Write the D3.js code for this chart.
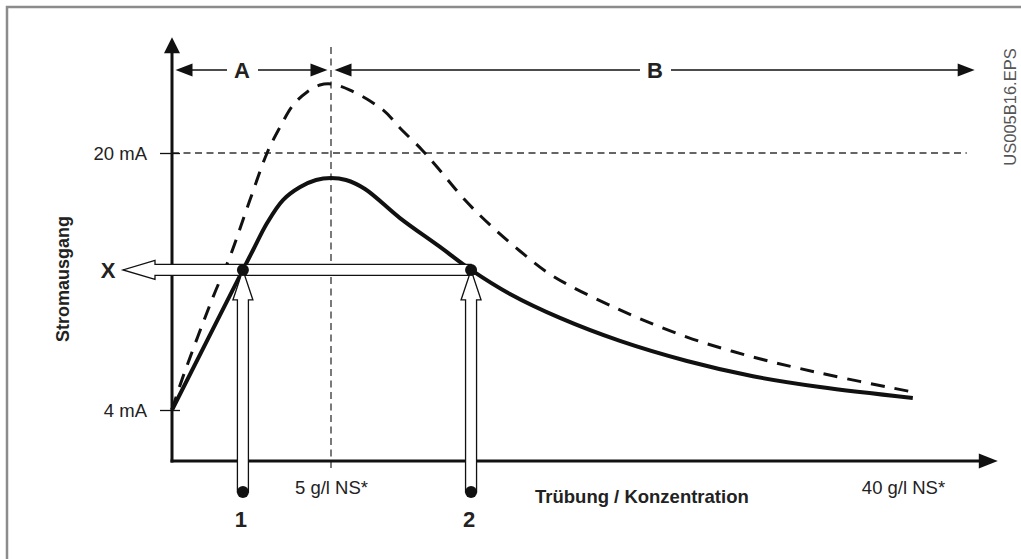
<!DOCTYPE html>
<html>
<head>
<meta charset="utf-8">
<script src="https://cdn.jsdelivr.net/npm/d3@7"></script>
<style>
  body { margin: 0; background: #fff; }
  svg { display: block; font-family: "Liberation Sans", Arial, sans-serif; }
</style>
</head>
<body>
<div id="chart"></div>
<script>
// Werte (x in g/l NS, y in mA)
const yTickValues = [4, 20];
const yTickLabels = ["4 mA", "20 mA"];
const xTickValues = [5, 40];
const xTickLabels = ["5 g/l NS*", "40 g/l NS*"];

const solidX = [0, 2.23, 2.55, 2.99, 3.49, 4.03, 4.53, 5, 5.92, 7.08, 9.22, 11.67, 13.57, 15.95, 19.01, 22.68, 26.78, 30.82, 34.92, 40.6];
const solidY = [4, 12.72, 13.96, 15.64, 17.07, 17.88, 18.32, 18.44, 18.32, 17.76, 15.95, 14.15, 12.72, 11.22, 9.73, 8.3, 7.05, 6.1, 5.43, 4.75];

const dashedX = [0, 0.31, 1.29, 1.82, 2.45, 2.99, 3.4, 3.81, 4.25, 4.65, 5, 6.16, 8.18, 9.22, 10.57, 11.49, 13.2, 14.73, 16.56, 18.58, 22.68, 26.78, 30.82, 34.92, 40.6];
const dashedY = [4, 5.87, 11.03, 13.53, 17.07, 20.0, 21.62, 22.99, 23.8, 24.23, 24.3, 23.92, 22.68, 21.56, 20.19, 19.13, 17.07, 15.52, 13.9, 12.34, 10.23, 8.54, 7.3, 6.3, 5.12];

const pointNames = ["1", "2"];
const pointX = [2.23, 13.57];
const levelX = 12.72; // Stromwert X

const regionNames = ["A", "B"];
const regionFrom = [0, 5];
const regionTo = [5, 44.6];

const W = 1021, H = 559;
const svg = d3.select("#chart").append("svg").attr("width", W).attr("height", H);

// Rahmen (rechts/unten abgeschnitten)
svg.append("rect")
    .attr("x", 7).attr("y", 7)
    .attr("width", 1100).attr("height", 600)
    .attr("fill", "none")
    .attr("stroke", "#8c8c8c")
    .attr("stroke-width", 2.5);

// Skalen: x ist in der Vorlage nicht linear, daher stückweise
const x = d3.scaleLinear().domain([0, 5, 40]).range([172, 331, 903]);
const y = d3.scaleLinear().domain([4, 20]).range([410, 153]);

const xMax = 45.8, yMax = 27.2, yMin = y.invert(461);

function triangle(tx, ty, dir, len, half) {
    // dir: "up", "right", "left"
    let pts;
    if (dir === "up") pts = [[tx, ty], [tx - half, ty + len], [tx + half, ty + len]];
    else if (dir === "right") pts = [[tx, ty], [tx - len, ty - half], [tx - len, ty + half]];
    else pts = [[tx, ty], [tx + len, ty - half], [tx + len, ty + half]];
    return "M" + pts.map(p => p.join(",")).join("L") + "Z";
}

// Hilfslinien
svg.append("line")
    .attr("x1", x(0)).attr("x2", x(43.9))
    .attr("y1", y(20)).attr("y2", y(20))
    .attr("stroke", "#333").attr("stroke-width", 1.3)
    .attr("stroke-dasharray", "7,4.5");

svg.append("line")
    .attr("x1", x(5)).attr("x2", x(5))
    .attr("y1", y(26.6)).attr("y2", 472)
    .attr("stroke", "#333").attr("stroke-width", 1.3)
    .attr("stroke-dasharray", "7,4.5");

// Achsen
const gy = svg.append("g")
    .attr("transform", `translate(${x(0)},0)`)
    .call(d3.axisLeft(y).tickValues(yTickValues)
        .tickFormat((d, i) => yTickLabels[i]).tickSize(12).tickPadding(14));
gy.select(".domain").remove();
gy.selectAll(".tick line").attr("x2", -12).attr("x1", 8).attr("stroke", "#111").attr("stroke-width", 1.3);
gy.selectAll(".tick text")
    .attr("font-size", 18.5).attr("font-family", "Liberation Sans, Arial, sans-serif")
    .attr("fill", "#222").attr("dy", "0.36em").attr("x", -25);

const gx = svg.append("g")
    .attr("transform", `translate(0,461)`)
    .call(d3.axisBottom(x).tickValues(xTickValues)
        .tickFormat((d, i) => xTickLabels[i]).tickSize(0).tickPadding(20));
gx.select(".domain").remove();
gx.selectAll(".tick text")
    .attr("font-size", 18.5).attr("font-family", "Liberation Sans, Arial, sans-serif")
    .attr("fill", "#222");

svg.append("line")
    .attr("x1", x(0)).attr("x2", x(0))
    .attr("y1", y(yMin) + 1.5).attr("y2", y(yMax) + 10)
    .attr("stroke", "#111").attr("stroke-width", 3);
svg.append("path").attr("d", triangle(x(0), y(yMax), "up", 16, 8)).attr("fill", "#111");

svg.append("line")
    .attr("x1", x(0) - 1.5).attr("x2", x(xMax) - 10)
    .attr("y1", 461).attr("y2", 461)
    .attr("stroke", "#111").attr("stroke-width", 3);
svg.append("path").attr("d", triangle(x(xMax), 461, "right", 19, 7.5)).attr("fill", "#111");

// Bereiche A und B
const regY = 70;
regionNames.forEach((name, i) => {
    const x0 = x(regionFrom[i]) + 3.5, x1 = x(regionTo[i]) - 3.5;
    const cx = i === 0 ? 242 : 655;
    svg.append("line").attr("x1", x0 + 10).attr("x2", cx - 15)
        .attr("y1", regY).attr("y2", regY).attr("stroke", "#111").attr("stroke-width", 1.6);
    svg.append("line").attr("x1", cx + 16).attr("x2", x1 - 10)
        .attr("y1", regY).attr("y2", regY).attr("stroke", "#111").attr("stroke-width", 1.6);
    svg.append("path").attr("d", triangle(x0, regY, "left", 17, 6.5)).attr("fill", "#111");
    svg.append("path").attr("d", triangle(x1, regY, "right", 17, 6.5)).attr("fill", "#111");
    svg.append("text").attr("x", cx).attr("y", regY + 8)
        .attr("text-anchor", "middle").attr("font-size", 22).attr("font-weight", "bold")
        .attr("fill", "#222").text(name);
});

// Kurven
const line = d3.line().x(d => x(d[0])).y(d => y(d[1])).curve(d3.curveCatmullRom.alpha(0.5));

svg.append("path")
    .attr("d", line(dashedX.map((v, i) => [v, dashedY[i]])))
    .attr("fill", "none").attr("stroke", "#111")
    .attr("stroke-width", 3).attr("stroke-dasharray", "14,10");

svg.append("path")
    .attr("d", line(solidX.map((v, i) => [v, solidY[i]])))
    .attr("fill", "none").attr("stroke", "#111").attr("stroke-width", 4);

// Hohlpfeile
const ly = y(levelX);
const hw = 5.5;
const hArrow = [[x(pointX[1]), ly - hw], [155, ly - hw], [155, ly - 9.5], [123, ly],
    [155, ly + 9.5], [155, ly + hw], [x(pointX[1]), ly + hw]];
svg.append("path").attr("d", "M" + hArrow.map(p => p.join(",")).join("L") + "Z")
    .attr("fill", "#fff").attr("stroke", "#111").attr("stroke-width", 1.3);

const baseY = 492;
pointX.forEach((px, i) => {
    const cx = x(px);
    const pts = [[cx - hw, baseY], [cx - hw, ly + 30], [cx - 10, ly + 30], [cx, ly],
        [cx + 10, ly + 30], [cx + hw, ly + 30], [cx + hw, baseY]];
    svg.append("path").attr("d", "M" + pts.map(p => p.join(",")).join("L") + "Z")
        .attr("fill", "#fff").attr("stroke", "#111").attr("stroke-width", 1.3);
    svg.append("circle").attr("cx", cx).attr("cy", baseY).attr("r", 6).attr("fill", "#111");
    svg.append("circle").attr("cx", cx).attr("cy", ly).attr("r", 6).attr("fill", "#111");
    svg.append("text").attr("x", cx - 2).attr("y", 527)
        .attr("text-anchor", "middle").attr("font-size", 22).attr("font-weight", "bold")
        .attr("fill", "#222").text(pointNames[i]);
});

svg.append("text").attr("x", 108).attr("y", ly + 8)
    .attr("text-anchor", "middle").attr("font-size", 22).attr("font-weight", "bold")
    .attr("fill", "#222").text("X");

// Achsentitel
svg.append("text")
    .attr("transform", "translate(69,279) rotate(-90)")
    .attr("text-anchor", "middle").attr("font-size", 18).attr("font-weight", "bold")
    .attr("fill", "#222").text("Stromausgang");

svg.append("text").attr("x", 535).attr("y", 503)
    .attr("font-size", 18.5).attr("font-weight", "bold")
    .attr("fill", "#222").text("Trübung / Konzentration");

svg.append("text")
    .attr("transform", "translate(1016,107) rotate(-90)")
    .attr("text-anchor", "middle").attr("font-size", 16.5)
    .attr("fill", "#555").text("US005B16.EPS");
</script>
</body>
</html>
